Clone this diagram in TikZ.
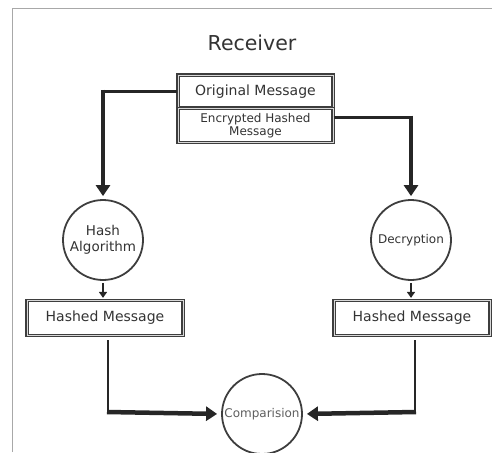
\documentclass[tikz,border=0pt]{standalone}
\usepackage{fontspec}
\setmainfont{DejaVu Sans}
\usetikzlibrary{arrows.meta}
\definecolor{ink}{HTML}{333333}
\definecolor{softink}{HTML}{5E5E5E}
\definecolor{edge}{HTML}{3E3E3E}
\definecolor{gap}{HTML}{D8D8D8}
\definecolor{frame}{HTML}{A8A8A8}
\begin{document}
\begin{tikzpicture}[x=1pt,y=-1pt,
  box/.style={draw=edge, double=gap, double distance=0.7pt, line width=1.2pt,
    inner sep=0pt, text=ink},
  proc/.style={circle, draw=edge, line width=1.8pt, minimum size=80pt,
    inner sep=0pt, text=ink, align=center},
  feed/.style={draw=black!85, line width=2.2pt},
  bold/.style={draw=black!85, line width=4.5pt},
  bigtip/.style={-{Triangle[width=14pt,length=11pt]}},
  smalltip/.style={-{Triangle[width=8pt,length=6pt]}}]
\useasboundingbox (0,0) rectangle (492,452);
% page frame
\draw[frame, line width=1pt] (12,452) -- (12,9) -- (492,9);

% nodes
\node[text=ink, font=\fontsize{20.5}{24}\selectfont] (title) at (252,43) {Receiver};
\node[box, minimum width=155pt, minimum height=33pt,
      font=\fontsize{14}{16}\selectfont] (orig) at (255.5,91.5) {Original Message};
\node[box, minimum width=155pt, minimum height=34pt, align=center,
      font=\fontsize{12}{14}\selectfont] (enc) at (255.5,125.5) {Encrypted Hashed\\[-1.5pt]Message};
\node[proc, font=\fontsize{13.5}{16}\selectfont] (hash) at (103,240) {Hash\\Algorithm};
\node[proc, font=\fontsize{12}{14}\selectfont] (dec) at (411,240) {Decryption};
\node[box, minimum width=156pt, minimum height=35pt,
      font=\fontsize{14}{16}\selectfont] (hl) at (105,318) {Hashed Message};
\node[box, minimum width=156pt, minimum height=35pt,
      font=\fontsize{14}{16}\selectfont] (hr) at (412,318) {Hashed Message};
\node[proc, text=softink, font=\fontsize{12}{14}\selectfont] (cmp) at (262,414) {Comparision};

% corners of the elbow connectors
\coordinate (tl) at (hash.north |- orig.west);
\coordinate (tr) at (dec.north |- 0,117.5);
\coordinate (bl) at (108,412);
\coordinate (br) at (415,412);

% top connectors
\draw[feed] (orig.west) -- ([xshift=-2pt]tl);
\draw[bold, bigtip, shorten >=3pt] ([yshift=2pt]tl) -- (hash.north);
\draw[feed] (enc.east |- tr) -- ([xshift=2pt]tr);
\draw[bold, bigtip, shorten >=3pt] ([yshift=2pt]tr) -- (dec.north);

% circle to hashed box
\draw[feed, smalltip, shorten <=2pt, shorten >=2pt] (hash.south) -- (hash.south |- hl.north);
\draw[feed, smalltip, shorten <=2pt, shorten >=2pt] (dec.south) -- (dec.south |- hr.north);

% hashed boxes to comparison
\draw[feed, shorten <=4pt] (bl |- hl.south) -- ([yshift=-1pt]bl);
\draw[bold, bigtip, shorten >=4pt] ([xshift=-1pt]bl) -- (cmp.west);
\draw[feed, shorten <=4pt] (br |- hr.south) -- ([yshift=-1pt]br);
\draw[bold, bigtip, shorten >=4pt] ([xshift=1pt]br) -- (cmp.east);
\end{tikzpicture}
\end{document}
